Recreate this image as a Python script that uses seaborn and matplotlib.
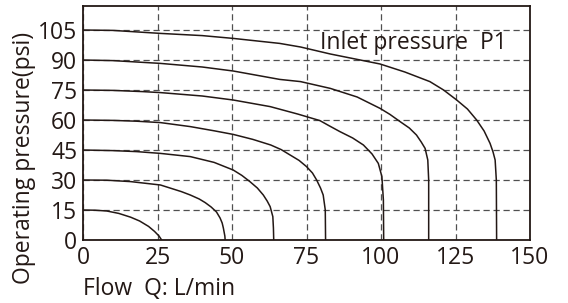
import matplotlib
matplotlib.use("Agg")
import matplotlib.pyplot as plt
import seaborn as sns
import pandas as pd

# ---- data ----
x_ticks = [0, 25, 50, 75, 100, 125, 150]
y_ticks = [0, 15, 30, 45, 60, 75, 90, 105]

p15_x = [0, 4, 8, 12, 16, 19, 22, 24, 25.5, 26.4]
p15_y = [15, 14.9, 14.5, 13.3, 11.4, 9.5, 6.8, 4.3, 2.0, 0]

p30_x = [0, 8, 16, 26, 33, 36, 39, 41, 43, 44.8, 46, 46.7, 47.1, 47.6, 47.7]
p30_y = [30, 29.9, 29.2, 27.5, 24.2, 22.5, 20.5, 18.7, 16.5, 14, 11, 8.5, 6, 2, 0]

p45_x = [0, 10, 18, 26, 36, 44, 50.4, 53.3, 56, 58.5, 60.5, 61.8, 62.8, 63.7, 63.9, 64]
p45_y = [45, 44.7, 44.2, 43.3, 41.7, 38.8, 35, 32.3, 29.2, 26, 22.5, 19.5, 16.7, 11.7, 6, 0]

p60_x = [0, 10, 18, 26, 36, 44, 50.4, 57, 63, 66.5, 69.5, 72.5, 75, 77, 78.4, 79.7, 80.6, 81.3, 81.4]
p60_y = [60, 59.8, 59.4, 58.7, 56.7, 54.6, 52.8, 50.3, 47.5, 45.2, 42.5, 39.8, 36.7, 33.5, 30, 26, 22.5, 15, 0]

p75_x = [0, 10, 20, 26, 40, 50.4, 62.8, 72, 79.5, 82.5, 86.2, 90.5, 94.1, 97, 99.1, 100.3, 100.8, 100.9]
p75_y = [75, 74.8, 74.2, 73.7, 72, 70, 66.7, 63, 59.7, 57.2, 54.2, 51, 47.5, 43, 38.3, 31.7, 20, 0]

p90_x = [0, 10, 26, 40, 50.4, 66, 73, 83, 92, 99.7, 103, 106.4, 109.5, 111.9, 113.5, 114.8, 115.7, 116, 116]
p90_y = [90, 89.7, 88.3, 86.5, 84.5, 80.3, 79.2, 75.8, 71.5, 65.8, 62.8, 59.2, 56, 52.5, 49, 45.8, 40, 30, 0]

p105_x = [0, 10, 26, 40, 50.4, 66, 73, 83, 99.7, 108, 116.4, 121, 125.4, 129, 132.1, 134.6,
          136.6, 137.6, 138.3, 138.7, 138.8]
p105_y = [105, 104.8, 103.3, 102.2, 100.8, 98.3, 96.5, 93, 88, 84, 79.2, 75, 70, 65.5, 60, 54.5,
          48.3, 44, 40, 30, 0]

curves = [(p15_x, p15_y), (p30_x, p30_y), (p45_x, p45_y), (p60_x, p60_y),
          (p75_x, p75_y), (p90_x, p90_y), (p105_x, p105_y)]

annotation = "Inlet pressure  P1"
x_label = "Flow  Q: L/min"
y_label = "Operating pressure(psi)"

# ---- style ----
sns.set_style("white")
plt.rcParams["font.family"] = ["Open Sans", "DejaVu Sans"]

ink = "#231815"
fs = 16.5
fig = plt.figure(figsize=(5.68, 3.03), dpi=100)
ax = fig.add_axes([83 / 568, 63 / 303, 447 / 568, 234 / 303])

for i, (xs, ys) in enumerate(curves):
    df = pd.DataFrame({"flow": xs, "pressure": ys})
    sns.lineplot(data=df, x="flow", y="pressure", sort=False, estimator=None,
                 color=ink, linewidth=1.1, ax=ax)

ax.set_xlim(0, 150)
ax.set_ylim(0, 117)
ax.set_xticks(x_ticks)
ax.set_yticks(y_ticks)
ax.set_xticklabels([str(v) for v in x_ticks], fontsize=fs, color=ink)
ax.set_yticklabels([str(v) for v in y_ticks], fontsize=fs, color=ink)
ax.tick_params(axis="both", length=0)
ax.tick_params(axis="x", pad=4.5)
ax.tick_params(axis="y", pad=4)

ax.grid(True, linestyle=(0, (5, 3)), color="#505050", linewidth=0.9)
ax.set_axisbelow(True)
for s in ax.spines.values():
    s.set_color(ink)
    s.set_linewidth(1.3)

ax.set_xlabel("")
ax.set_ylabel("")
ax.text(79.5, 98.5, annotation, fontsize=fs, color=ink, va="center", ha="left")

fig.text(83 / 568, 1 - 289 / 303, x_label, fontsize=fs, color=ink, ha="left", va="center")
fig.text(24 / 568, 1 - 158 / 303, y_label, fontsize=fs, color=ink, rotation=90,
         ha="center", va="center")

fig.savefig("out.png", dpi=100)
